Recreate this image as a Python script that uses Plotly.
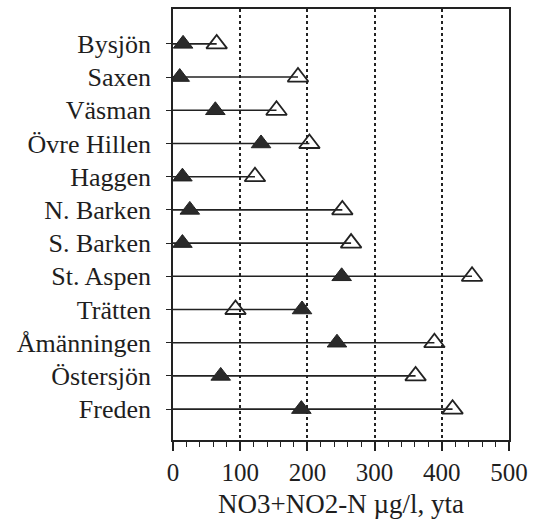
import plotly.graph_objects as go

lakes = ["Bysjön", "Saxen", "Väsman", "Övre Hillen", "Haggen", "N. Barken",
         "S. Barken", "St. Aspen", "Trätten", "Åmänningen", "Östersjön", "Freden"]
filled_vals = [15, 10, 63, 131, 14, 25, 14, 251, 192, 244, 71, 191]
open_vals = [65, 186, 154, 203, 122, 252, 265, 445, 93, 389, 361, 416]
x_ticks = [0, 100, 200, 300, 400, 500]
x_title = "NO3+NO2-N µg/l, yta"

ypos = list(range(len(lakes)))

# connecting lines from axis (0) to the rightmost marker
lx, ly = [], []
for i, (a, b) in enumerate(zip(filled_vals, open_vals)):
    lx += [0, max(a, b), None]
    ly += [i, i, None]

fig = go.Figure()
fig.add_trace(go.Scatter(x=lx, y=ly, mode="lines",
                         line=dict(color="#222", width=1.6), hoverinfo="skip",
                         showlegend=False))
fig.add_trace(go.Scatter(x=filled_vals, y=ypos, mode="markers",
                         marker=dict(symbol="triangle-up", size=17, color="#2a2a2a",
                                     line=dict(color="#222", width=1)),
                         showlegend=False))
fig.add_trace(go.Scatter(x=open_vals, y=ypos, mode="markers",
                         marker=dict(symbol="triangle-up-open", size=18, color="#222",
                                     line=dict(width=1.8)),
                         showlegend=False))

font = dict(family="Liberation Serif, Times New Roman, serif", size=26, color="#1e1e1e")
title_font = dict(family="Liberation Serif, Times New Roman, serif", size=27, color="#1e1e1e")

fig.update_layout(
    width=535, height=526,
    margin=dict(l=173, r=22, t=7, b=86),
    paper_bgcolor="white", plot_bgcolor="white",
    font=font,
    xaxis=dict(range=[0, 500], tickvals=x_ticks, ticktext=[str(v) for v in x_ticks],
               tickfont=dict(size=25),
               showgrid=True, gridcolor="#222", gridwidth=2, griddash="dot",
               showline=True, linecolor="#222", linewidth=1.6, mirror=True,
               ticks="outside", ticklen=9, tickwidth=1.5, tickcolor="#222",
               minor=dict(dtick=20, tick0=0, ticks="outside", ticklen=5, tickwidth=1.2,
                          tickcolor="#222", showgrid=False),
               zeroline=False,
               title=dict(text=x_title, font=title_font, standoff=9)),
    yaxis=dict(range=[11.93, -1.05], tickvals=ypos, ticktext=lakes,
               showgrid=False, zeroline=False,
               showline=True, linecolor="#222", linewidth=1.6, mirror=True,
               ticks="outside", ticklen=5, tickwidth=1.2, tickcolor="#222",
               ticklabelstandoff=10),
)

fig.write_html("out.html")
